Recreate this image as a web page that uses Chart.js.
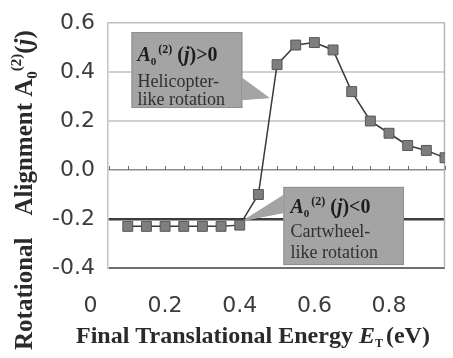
<!DOCTYPE html>
<html><head><meta charset="utf-8">
<script src="https://cdn.jsdelivr.net/npm/chart.js@4/dist/chart.umd.min.js"></script>
<style>html,body{margin:0;padding:0;background:#fff}#c{display:block}</style>
</head><body>
<canvas id="c" width="453" height="358"></canvas>
<script>
// ---- data ----
const energies  = [0.10,0.15,0.20,0.25,0.30,0.35,0.40,0.45,0.50,0.55,0.60,0.65,0.70,0.75,0.80,0.85,0.90,0.95];
const alignment = [-0.23,-0.23,-0.23,-0.23,-0.23,-0.23,-0.225,-0.10,0.43,0.51,0.52,0.49,0.32,0.20,0.15,0.10,0.08,0.05];
const xTickLabels = [0,0.2,0.4,0.6,0.8];
const yTickValues = [-0.4,-0.2,0,0.2,0.4,0.6];
const xMinorTicks = [0.05,0.10,0.15,0.20,0.25,0.30,0.35,0.40,0.45,0.50,0.55,0.60,0.65,0.70,0.75,0.80,0.85,0.90,0.95];

const SERIF = '"Liberation Serif","Times New Roman",serif';
const SANS = '"DejaVu Sans",Verdana,sans-serif';

// callouts in data coordinates
const callouts = [
  { box:{x1:0.110,y1:0.563,x2:0.407,y2:0.253},
    pointer:[[0.407,0.376],[0.480,0.294],[0.407,0.286]],
    textDx:6,
    lines:[
      {dy:29, sign:'>0'},
      {dy:55, text:'Helicopter-'},
      {dy:73, text:'like rotation'}
    ]},
  { box:{x1:0.517,y1:-0.069,x2:0.840,y2:-0.388},
    pointer:[[0.517,-0.102],[0.407,-0.208],[0.517,-0.176]],
    textDx:7,
    lines:[
      {dy:26, sign:'<0'},
      {dy:50, text:'Cartwheel-'},
      {dy:71, text:'like rotation'}
    ]}
];

function drawRich(ctx, pieces, x, y){
  let cx = x;
  for (const p of pieces){
    if (p.gap){ cx += p.gap; continue; }
    ctx.font = p.font;
    ctx.fillText(p.t, cx, y + (p.dy||0));
    cx += ctx.measureText(p.t).width;
  }
  return cx;
}

const overlay = {
  id:'overlay',
  beforeDatasetsDraw(chart){
    const {ctx, chartArea:a, scales:{x, y}} = chart;
    ctx.save();
    // right border
    ctx.strokeStyle = '#b4b4b4'; ctx.lineWidth = 1.5;
    ctx.beginPath(); ctx.moveTo(a.right-0.5, a.top); ctx.lineTo(a.right-0.5, a.bottom); ctx.stroke();
    // minor ticks on zero line
    const y0 = y.getPixelForValue(0);
    ctx.strokeStyle = '#6a6a6a'; ctx.lineWidth = 1;
    for (const t of xMinorTicks){
      const px = Math.round(x.getPixelForValue(t)) + 0.5;
      ctx.beginPath(); ctx.moveTo(px, y0); ctx.lineTo(px, y0-4); ctx.stroke();
    }
    // callouts
    for (const c of callouts){
      const bx1 = x.getPixelForValue(c.box.x1), bx2 = x.getPixelForValue(c.box.x2);
      const by1 = y.getPixelForValue(c.box.y1), by2 = y.getPixelForValue(c.box.y2);
      ctx.fillStyle = '#a4a4a4'; ctx.strokeStyle = '#8e8e8e'; ctx.lineWidth = 1;
      ctx.beginPath();
      c.pointer.forEach((p,i)=>{ const px=x.getPixelForValue(p[0]), py=y.getPixelForValue(p[1]); i?ctx.lineTo(px,py):ctx.moveTo(px,py); });
      ctx.closePath(); ctx.fill();
      ctx.fillRect(bx1, by1, bx2-bx1, by2-by1);
      ctx.strokeRect(bx1+0.5, by1+0.5, bx2-bx1-1, by2-by1-1);
      // re-fill pointer base over border
      ctx.beginPath();
      c.pointer.forEach((p,i)=>{ const px=x.getPixelForValue(p[0]), py=y.getPixelForValue(p[1]); i?ctx.lineTo(px,py):ctx.moveTo(px,py); });
      ctx.closePath(); ctx.fill();
      ctx.textBaseline = 'alphabetic'; ctx.textAlign = 'left';
      const tx = bx1 + c.textDx;
      for (const ln of c.lines){
        if (ln.sign){
          ctx.fillStyle = '#1c1c1c';
          drawRich(ctx, [
            {t:'A', font:'italic bold 20px '+SERIF},
            {t:'0', font:'bold 11px '+SERIF, dy:4},
            {gap:2},
            {t:'(2)', font:'bold 12px '+SERIF, dy:-8},
            {gap:5},
            {t:'(', font:'bold 20px '+SERIF},
            {t:'j', font:'italic bold 20px '+SERIF},
            {t:')'+ln.sign, font:'bold 20px '+SERIF}
          ], tx, by1 + ln.dy);
        } else {
          ctx.fillStyle = '#303030';
          ctx.font = '18px '+SERIF;
          ctx.fillText(ln.text, tx, by1 + ln.dy);
        }
      }
    }
    ctx.restore();
  },
  afterDraw(chart){
    const {ctx, scales:{x}} = chart;
    ctx.save();
    // x tick labels
    ctx.fillStyle = '#3c3c3c';
    ctx.font = '22px '+SANS;
    ctx.textAlign = 'center'; ctx.textBaseline = 'alphabetic';
    for (const v of xTickLabels){
      ctx.fillText(v === 0 ? '0' : v.toFixed(1), x.getPixelForValue(v), 312);
    }
    // x title
    ctx.textAlign = 'left';
    ctx.fillStyle = '#2a2a2a';
    drawRich(ctx, [
      {t:'Final Translational Energy ', font:'bold 24px '+SERIF},
      {t:'E', font:'italic bold 24px '+SERIF},
      {t:'T', font:'bold 12px '+SERIF, dy:4},
      {gap:3},
      {t:'(eV)', font:'bold 24px '+SERIF}
    ], 76, 343);
    // y title
    ctx.translate(32, 350);
    ctx.rotate(-Math.PI/2);
    drawRich(ctx, [
      {t:'Rotational', font:'bold 25px '+SERIF},
      {gap:22},
      {t:'Alignment ', font:'bold 25px '+SERIF},
      {t:'A', font:'bold 25px '+SERIF},
      {t:'0', font:'bold 15px '+SERIF, dy:5},
      {t:'(2)', font:'bold 15px '+SERIF, dy:-11},
      {t:'(', font:'bold 25px '+SERIF},
      {t:'j', font:'italic bold 25px '+SERIF},
      {t:')', font:'bold 25px '+SERIF}
    ], 0, 0);
    ctx.restore();
  }
};

const gridStyle = {
  '0.6':['#bdbdbd',1.5], '0.4':['#d0d0d0',2], '0.2':['#d0d0d0',2],
  '0.0':['#8c8c8c',1.5], '-0.2':['#3c3c3c',2.5], '-0.4':['#6e6e6e',2]
};
const gs = (v) => gridStyle[(Math.abs(v)<1e-9?0:v).toFixed(1)] || ['#d0d0d0',1];

new Chart(document.getElementById('c'), {
  type:'line',
  data:{ datasets:[{
    data: energies.map((e,i)=>({x:e, y:alignment[i]})),
    borderColor:'#3a3a3a', borderWidth:1.5, tension:0,
    pointStyle:'rect', pointRadius:7, pointHoverRadius:7,
    pointBackgroundColor:'#7e7e7e', pointBorderColor:'#555555', pointBorderWidth:1
  }]},
  options:{
    responsive:false, animation:false, devicePixelRatio:1,
    layout:{padding:{left:0,right:1,top:23,bottom:90}},
    plugins:{legend:{display:false}, tooltip:{enabled:false}},
    scales:{
      x:{type:'linear', display:false, min:0.047, max:0.95},
      y:{type:'linear', min:-0.4, max:0.6,
        afterBuildTicks:(s)=>{ s.ticks = yTickValues.map(v=>({value:v})); },
        afterFit:(s)=>{ s.width = 108; s.paddingTop = 0; s.paddingBottom = 0; },
        ticks:{ font:{family:SANS, size:22}, color:'#3c3c3c', padding:13,
          callback:(v)=> (Math.abs(v)<1e-9?0:v).toFixed(1) },
        grid:{ drawTicks:false, color:(c)=>gs(c.tick.value)[0], lineWidth:(c)=>gs(c.tick.value)[1] },
        border:{ display:true, color:'#c4c4c4', width:1.5 }
      }
    }
  },
  plugins:[overlay]
});
</script>
</body></html>
